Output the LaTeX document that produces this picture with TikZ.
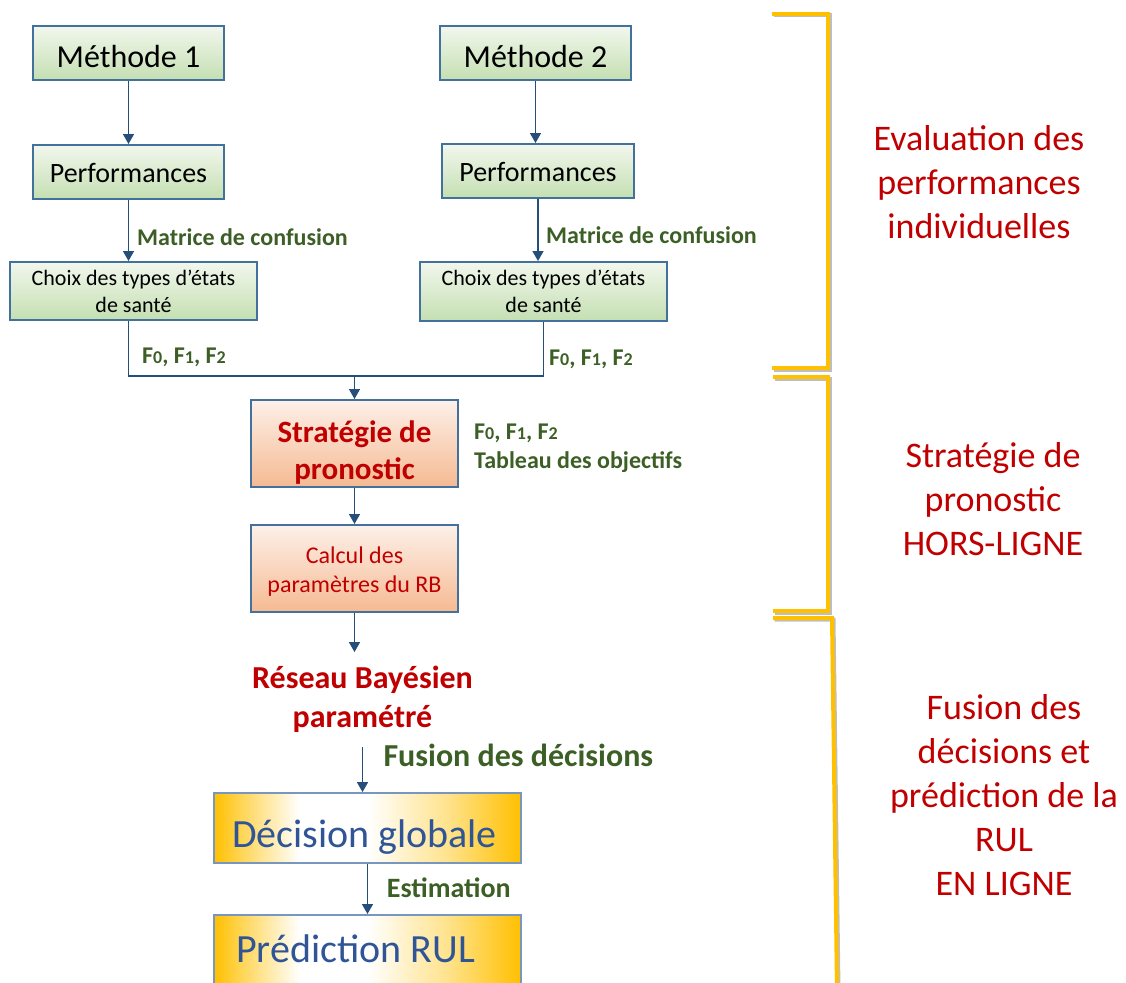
\documentclass[tikz,border=0pt]{standalone}
\usepackage{fontspec}
\setmainfont{Carlito}
\usetikzlibrary{arrows.meta}
\definecolor{bord}{RGB}{65,113,156}
\definecolor{arrc}{RGB}{38,78,122}
\definecolor{grA}{RGB}{242,247,237}
\definecolor{grB}{RGB}{196,223,178}
\definecolor{peA}{RGB}{253,240,233}
\definecolor{peB}{RGB}{245,186,146}
\definecolor{gold}{RGB}{255,192,0}
\definecolor{goldbord}{RGB}{120,150,190}
\definecolor{redt}{RGB}{192,0,0}
\definecolor{greent}{RGB}{60,95,38}
\definecolor{bluet}{RGB}{47,85,151}
\definecolor{shadowc}{RGB}{190,190,190}
\pgfdeclarehorizontalshading{goldband}{100bp}{color(0bp)=(gold); color(25bp)=(gold); color(31bp)=(gold!55!white); color(39bp)=(white); color(50bp)=(white); color(63bp)=(gold!45!white); color(75bp)=(gold); color(100bp)=(gold)}
\newcommand\myfs[2]{\fontsize{#1}{#2}\selectfont}
\newcommand\sdig[1]{{\fontsize{18}{20}\selectfont #1}}
\tikzset{
 greenbox/.style={draw=bord, line width=2pt, top color=grA, bottom color=grB, inner sep=0pt, align=center},
 peachbox/.style={draw=bord, line width=2pt, top color=peA, bottom color=peB, inner sep=0pt, align=center},
 goldbox/.style={draw=goldbord, line width=1.8pt, shade, shading=goldband, inner sep=0pt, text=bluet, font=\myfs{40}{49}, minimum width=307pt},
 conn/.style={draw=arrc, line width=1.4pt},
 arr/.style={conn, -{Triangle[width=11pt,length=10pt]}},
 lbl/.style={text=greent, inner sep=0pt, font=\bfseries\myfs{24}{29}},
 sidetxt/.style={text=redt, align=center, inner sep=0pt, font=\myfs{36}{44}},
 bracket/.style={draw=gold, line width=4pt},
 bracketsh/.style={draw=shadowc, line width=4pt},
}
\begin{document}
\begin{tikzpicture}[x=1pt,y=-1pt]
\useasboundingbox (0,0) rectangle (1126,982);
\clip (0,0) rectangle (1126,982);

% brackets
\draw[bracketsh] (773.5,15.5) -- (829.5,15.5) -- (829.5,369.5) -- (773.5,369.5);
\draw[bracket] (772,14) -- (828,14) -- (828,368) -- (772,368);
\draw[bracketsh] (774.5,378.5) -- (829.5,378.5) -- (829.5,612.5) -- (774.5,612.5);
\draw[bracket] (773,377) -- (828,377) -- (828,611) -- (773,611);
\draw[bracketsh] (774.5,619.5) -- (833.5,619.5) -- (838.5,990);
\draw[bracket] (773,618) -- (832,618) -- (837,990);

% boxes
\node[greenbox, minimum width=191pt, minimum height=54pt, font=\myfs{32}{39}, text height=28pt, text depth=0pt] (m1) at (128.5,53) {Méthode 1};
\node[greenbox, minimum width=191pt, minimum height=54pt, font=\myfs{32}{39}, text height=28pt, text depth=0pt] (m2) at (535.5,53) {Méthode 2};
\node[greenbox, minimum width=191pt, minimum height=54pt, font=\myfs{28}{34}, text height=21.5pt, text depth=0pt] (p1) at (128.5,172) {Performances};
\node[greenbox, minimum width=192pt, minimum height=54pt, font=\myfs{28}{34}, text height=21.5pt, text depth=0pt] (p2) at (538,171) {Performances};
\node[greenbox, minimum width=247pt, minimum height=58pt, font=\myfs{22}{27}] (c1) at (133.5,291) {Choix des types d’états\\de santé};
\node[greenbox, minimum width=247pt, minimum height=59pt, font=\myfs{22}{27}] (c2) at (543.5,291.5) {Choix des types d’états\\de santé};

\node[peachbox, minimum width=207pt, minimum height=87pt, text=redt, font=\bfseries\myfs{31}{37}] (s) at (354.5,443.5) {\rule{0pt}{40pt}Stratégie de\\pronostic};
\node[peachbox, minimum width=207pt, minimum height=87pt, text=redt, font=\myfs{24}{29}] (k) at (354.5,568.5) {\rule{0pt}{23.6pt}Calcul des\\paramètres du RB};

\node[text=redt, align=center, font=\bfseries\myfs{32}{39}, inner xsep=0pt, inner ysep=14pt] (rb) at (362.5,699.5) {Réseau Bayésien\\paramétré};

\node[goldbox, minimum height=70pt, text height=40pt, text depth=2pt] (d) at (367.5,828) {Décision globale\kern6pt};
\node[goldbox, anchor=north, text height=48pt, text depth=34pt] (r) at (367.5,914) {Prédiction RUL\kern24pt};

% labels
\node[lbl, anchor=base west] (lm1) at (137,245) {Matrice de confusion};
\node[lbl, anchor=base west] (lm2) at (546,243.5) {Matrice de confusion};
\node[lbl, anchor=base west] (lf1) at (142,363) {F\sdig{0}, F\sdig{1}, F\sdig{2}};
\node[lbl, anchor=base west] (lf2) at (549,365) {F\sdig{0}, F\sdig{1}, F\sdig{2}};
\node[lbl, anchor=west, align=left] (lobj) at (474,447.8) {F\sdig{0}, F\sdig{1}, F\sdig{2}\\Tableau des objectifs};
\node[lbl, anchor=base west, font=\bfseries\myfs{32}{39}] (lfus) at (383.3,766.7) {Fusion des décisions};
\node[lbl, anchor=base west, font=\bfseries\myfs{28}{34}] (lest) at (386.7,897.3) {Estimation};

% side texts
\node[sidetxt] (t1) at (979,182.2) {Evaluation des\\performances\\individuelles};
\node[sidetxt] (t2) at (993,499.4) {Stratégie de\\pronostic\\HORS-LIGNE};
\node[sidetxt] (t3) at (1004,795) {Fusion des\\décisions et\\prédiction de la\\RUL\\EN LIGNE};

% connectors
\draw[arr] (m1) -- (p1);
\draw[arr] (m2.south) -- (m2.south |- p2.north);
\draw[arr] (p1.south) -- (p1.south |- c1.north);
\draw[arr] (p2.south) -- (p2.south |- c2.north);
\coordinate (jL) at (128.5,376);
\coordinate (jR) at (543.5,376);
\draw[conn] (p1.south |- c1.south) -- (jL) -- (jR) -- (c2.south);
\coordinate (jM) at (s.north |- jL);
\draw[arr] (jM) -- (s.north);
\draw[arr] (s) -- (k);
\draw[arr] (k.south) -- (k.south |- rb.north);
\draw[arr] (rb.south) -- (rb.south |- d.north);
\draw[arr] (d) -- (r);
\end{tikzpicture}
\end{document}
